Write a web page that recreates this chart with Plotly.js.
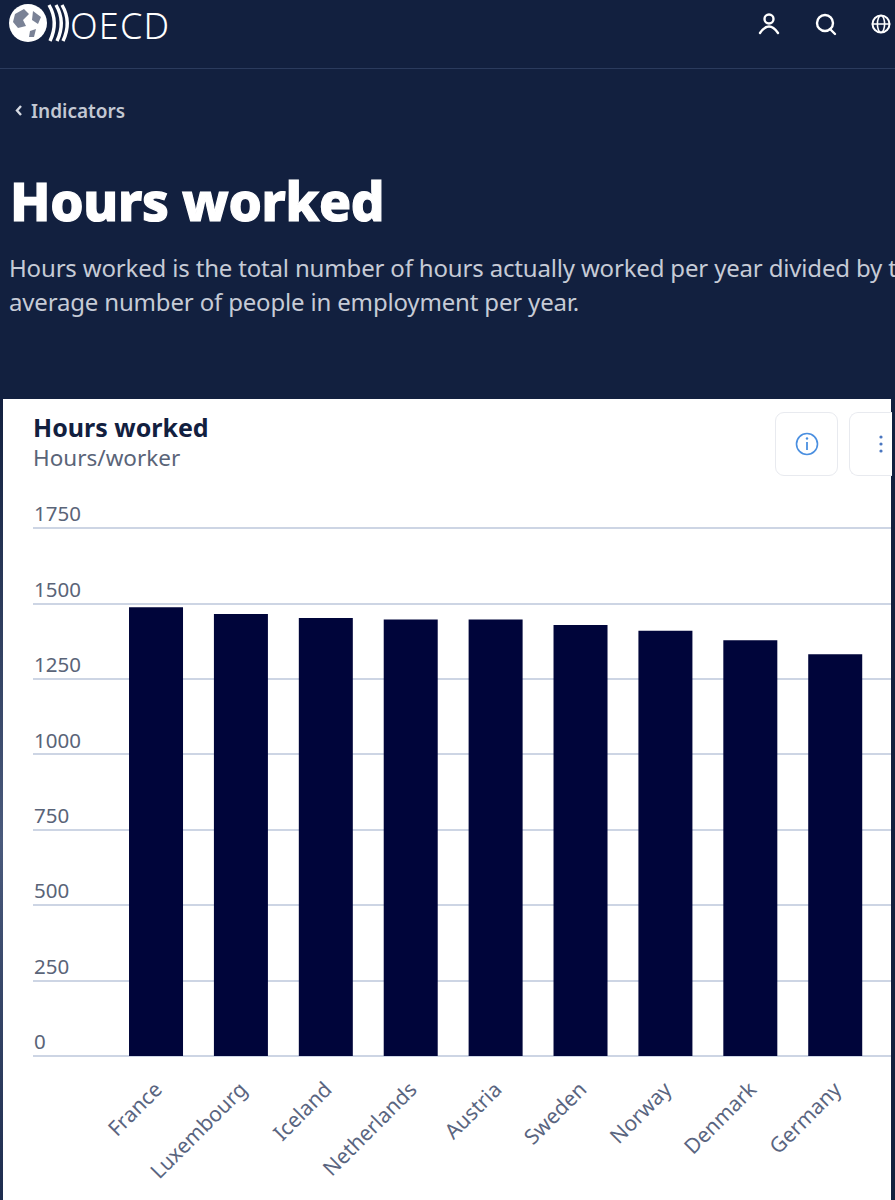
<!DOCTYPE html>
<html><head><meta charset="utf-8">
<script src="https://cdn.plot.ly/plotly-3.0.1.min.js"></script>
<style>
html,body{margin:0;padding:0;background:#12203f;width:895px;height:1200px;overflow:hidden;font-family:"Noto Sans",sans-serif}
.abs{position:absolute;white-space:nowrap}
#strip{left:0;top:399px;width:3px;height:801px;background:linear-gradient(#12203f,#4a5a7c 55%,#1d2c4e)}
#chart{position:absolute;left:3px;top:399px;width:888px;height:801px;background:#fff}
#btn1,#btn2{position:absolute;top:412px;height:62px;border:1.5px solid #e8eaef;border-radius:9px;background:#fff}
#btn1{left:775px;width:61px}
#btn2{left:849px;width:42px;border-right:none;border-radius:9px 0 0 9px}
</style></head><body>
<svg class="abs" style="left:0;top:0" width="895" height="130">
  <circle cx="28" cy="23" r="19" fill="#fff"/>
  <path d="M15 14 L24 9 L29 14 L23 20 L26 26 L18 28 L13 22Z M33 11 L41 17 L38 24 L32 20Z M30 31 L36 29 L34 37 L29 37Z" fill="#7a8296"/>
  <path d="M49 5 Q59 22 50 41 M56 5 Q66 22 57 41 M62 5 Q72 22 63 41" stroke="#fff" stroke-width="3.4" fill="none"/>
  <g fill="none" stroke="#fff" stroke-width="2.4" stroke-linecap="round">
    <circle cx="769" cy="19" r="4.5"/><path d="M760 33 Q769 20 778 33"/>
    <circle cx="825" cy="23" r="8"/><path d="M830 29 L835 34"/>
    <circle cx="881" cy="24" r="8.5" stroke-width="2"/><ellipse cx="881" cy="24" rx="3.6" ry="8.5" stroke-width="1.6"/><path d="M872.5 24 H889.5" stroke-width="1.6"/>
  </g>
  <path d="M0 68.5 H895" stroke="#2b3b5d" stroke-width="1"/>
  <path d="M21 106 L17 110.5 L21 115" stroke="#d5d9e2" stroke-width="2.4" fill="none"/>
</svg>
<div class="abs" style="left:70px;top:1px;font-size:36px;line-height:49px;color:#fff;letter-spacing:1.2px;font-weight:300">OECD</div>
<div class="abs" style="left:31px;top:98px;font-size:19px;line-height:26px;font-weight:600;color:#c3c8d3">Indicators</div>
<div class="abs" style="left:10px;top:164px;font-size:53px;line-height:74px;font-weight:800;color:#fff;-webkit-text-stroke:1.2px #fff;letter-spacing:-0.3px">Hours worked</div>
<div class="abs" style="left:9px;top:251px;font-size:24px;line-height:34px;color:#c6cbd6;width:886px;overflow:hidden;letter-spacing:-0.17px">Hours worked is the total number of hours actually worked per year divided by the<br>average number of people in employment per year.</div>
<div class="abs" id="strip"></div>
<div id="chart"></div>
<div id="btn1"></div><div id="btn2"></div>
<svg class="abs" style="left:775px;top:412px" width="116" height="64">
  <circle cx="32" cy="32" r="10.5" fill="none" stroke="#4a8fe0" stroke-width="1.6"/>
  <path d="M32 30 V38" stroke="#4a8fe0" stroke-width="1.8"/><circle cx="32" cy="26.5" r="1.2" fill="#4a8fe0"/>
  <circle cx="106" cy="25" r="1.6" fill="#4a76c0"/><circle cx="106" cy="32" r="1.6" fill="#4a76c0"/><circle cx="106" cy="39" r="1.6" fill="#4a76c0"/>
</svg>
<script>
const countries = ["France","Luxembourg","Iceland","Netherlands","Austria","Sweden","Norway","Denmark","Germany"];
const hoursPerWorker = [1488,1465,1452,1447,1447,1429,1410,1378,1332];
const yTicks = [0,250,500,750,1000,1250,1500,1750];
const chartTitle = "Hours worked";
const chartUnit = "Hours/worker";

Plotly.newPlot("chart",[{
  type:"bar",x:countries,y:hoursPerWorker,
  marker:{color:"#00053a",line:{width:0}},
  hoverinfo:"x+y"
}],{
  width:888,height:801,
  margin:{l:30,r:0,t:99,b:144,pad:0},
  paper_bgcolor:"#ffffff",plot_bgcolor:"#ffffff",
  bargap:0.364,showlegend:false,
  font:{family:"Noto Sans, sans-serif",color:"#5a6478"},
  title:{text:"<b>"+chartTitle+"</b>",x:0,xref:"paper",xanchor:"left",
    y:0.9638,yref:"container",yanchor:"middle",
    font:{family:"Noto Sans, sans-serif",size:25,color:"#12203f"}},
  annotations:[{text:chartUnit,xref:"paper",yref:"paper",x:0,y:1.0717,xanchor:"left",yanchor:"middle",
    showarrow:false,xshift:-2,font:{family:"Noto Sans, sans-serif",size:22.5,color:"#5a6478"}}],
  xaxis:{type:"category",range:[-1.449,8.657],tickangle:-45,ticks:"",showgrid:false,
    showline:false,zeroline:false,fixedrange:true,
    tickfont:{size:21,color:"#5a6580"},ticklabelstandoff:16},
  yaxis:{range:[0,1850],tickmode:"array",tickvals:yTicks,ticktext:yTicks.map(String),
    gridcolor:"#cdd5e4",gridwidth:1.5,zeroline:true,zerolinecolor:"#cdd5e4",zerolinewidth:1.5,
    showline:false,ticks:"",ticklabelposition:"inside",ticklabelshift:-14,ticklabelstandoff:-2,fixedrange:true,
    tickfont:{size:20.5,color:"#5a6478"}}
},{displayModeBar:false});
</script>
</body></html>
